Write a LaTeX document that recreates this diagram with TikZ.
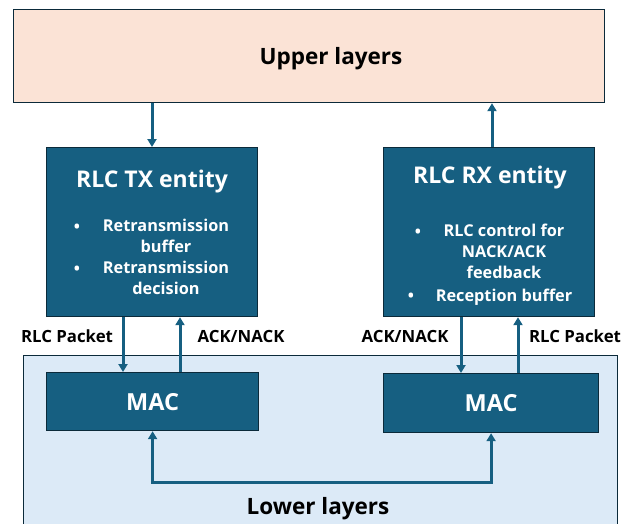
\documentclass[tikz,border=0pt]{standalone}
\usepackage{fontspec}
\setmainfont{Open Sans}
\usetikzlibrary{arrows.meta,calc}
\definecolor{peach}{HTML}{FBE3D6}
\definecolor{lblue}{HTML}{DCEAF7}
\definecolor{teal}{HTML}{165F81}
\definecolor{edge}{HTML}{0B2A3A}
\tikzset{
  x=1pt,y=-1pt,
  layer/.style={draw=edge,line width=1.2pt,anchor=north west,inner sep=0pt},
  ent/.style={draw=edge,fill=teal,line width=1.2pt,anchor=north west,inner sep=0pt},
  wtxt/.style={text=white,font=\bfseries,inner sep=0pt},
  btxt/.style={text=black,font=\bfseries,inner sep=0pt},
  bigf/.style={font=\bfseries\fontsize{22.5}{26}\selectfont},
  titf/.style={font=\bfseries\fontsize{23}{26}\selectfont},
  macf/.style={font=\bfseries\fontsize{23.5}{26}\selectfont},
  itemf/.style={font=\bfseries\fontsize{16.3}{21}\selectfont},
  labf/.style={font=\bfseries\fontsize{16.8}{18}\selectfont},
  arr/.style={draw=teal,line width=3pt,-{Triangle[width=9pt,length=8pt]}},
  arrb/.style={draw=teal,line width=3pt,{Triangle[width=9pt,length=8pt]}-{Triangle[width=9pt,length=8pt]}},
}
\begin{document}
\begin{tikzpicture}
\useasboundingbox (0,0) rectangle (637,523);
\clip (0,0) rectangle (637,523);
% upper layers
\node[layer,fill=peach,minimum width=591pt,minimum height=93pt] (upper) at (13,9) {};
\node[btxt,bigf] (uppert) at (331,59) {Upper layers};
% entities
\node[ent,minimum width=211pt,minimum height=169pt] (tx) at (46,147) {};
\node[ent,minimum width=211pt,minimum height=169pt] (rx) at (383,147) {};
\node[wtxt,titf] (txt) at (152,182) {RLC TX entity};
\node[wtxt,titf] (rxt) at (490,178) {RLC RX entity};
\node[wtxt,itemf] (txb1) at (77,228) {•};
\node[wtxt,itemf] (txb2) at (77,270) {•};
\node[wtxt,itemf,align=center,anchor=north] (txi1) at (166,219) {Retransmission\\buffer};
\node[wtxt,itemf,align=center,anchor=north] (txi2) at (166,261) {Retransmission\\decision};
\node[wtxt,itemf] (rxb1) at (418,233) {•};
\node[wtxt,itemf] (rxb2) at (411,297) {•};
\node[wtxt,itemf,align=center,anchor=north] (rxi1) at (504,224) {RLC control for\\NACK/ACK\\feedback};
\node[wtxt,itemf] (rxi2) at (504,297) {Reception buffer};
% lower layers
\node[layer,fill=lblue,minimum width=594pt,minimum height=190pt] (lower) at (23,355) {};
\node[btxt,bigf] (lowert) at (318,509) {Lower layers};
\node[ent,minimum width=212pt,minimum height=58pt] (macl) at (46,372) {};
\node[ent,minimum width=215pt,minimum height=59pt] (macr) at (383,373) {};
\node[wtxt,macf] (maclt) at (macl.center) {MAC};
\node[wtxt,macf] (macrt) at (macr.center) {MAC};
% labels
\node[btxt,labf] (l1) at (67,336) {RLC Packet};
\node[btxt,labf] (l2) at (241,336) {ACK/NACK};
\node[btxt,labf] (l3) at (405,336) {ACK/NACK};
\node[btxt,labf] (l4) at (575,336) {RLC Packet};
% connectors
\coordinate (c1) at (152,0);
\coordinate (c2) at (492,0);
\coordinate (c3) at (123,0);
\coordinate (c4) at (180,0);
\coordinate (c5) at (461,0);
\coordinate (c6) at (518,0);
\coordinate (cb) at (0,482);
\draw[arr] (upper.south -| c1) -- (tx.north -| c1);
\draw[arr] (rx.north -| c2) -- (upper.south -| c2);
\draw[arr] (tx.south -| c3) -- (macl.north -| c3);
\draw[arr] (macl.north -| c4) -- (tx.south -| c4);
\draw[arr] (rx.south -| c5) -- (macr.north -| c5);
\draw[arr] (macr.north -| c6) -- (rx.south -| c6);
\draw[arrb] (macl.south) -- (macl.south |- cb) -- (macr.south |- cb) -- (macr.south);
\end{tikzpicture}
\end{document}
